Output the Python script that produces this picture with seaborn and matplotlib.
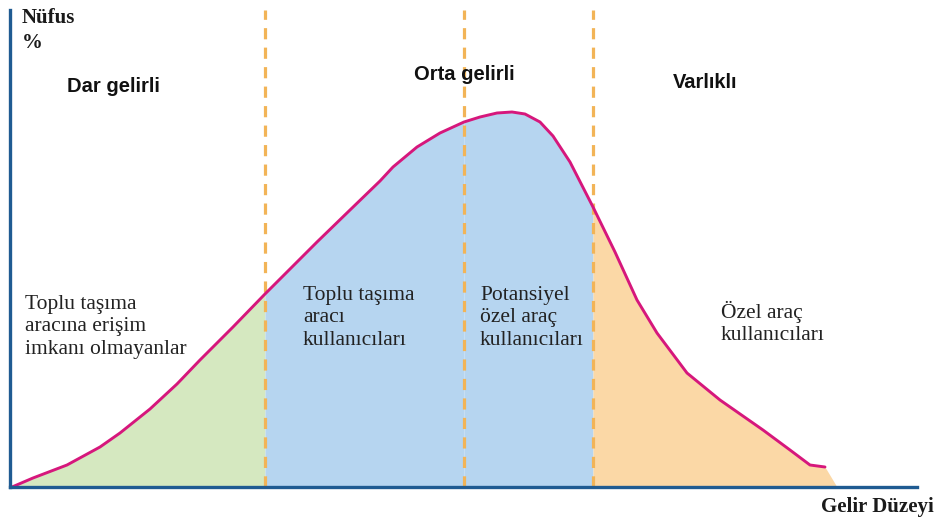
import numpy as np
import pandas as pd
import matplotlib
matplotlib.use("Agg")
import matplotlib.pyplot as plt
import seaborn as sns

# income level (x) vs population share (y)
income = [2, 23, 57, 90, 110, 140, 167, 190, 223, 255, 280, 307, 340, 370, 383, 407,
          430, 454, 470, 487, 502, 515, 530, 543, 560, 583, 605, 627, 647, 677,
          710, 753, 780, 800, 815]
population = [0, 9, 22, 40, 54, 78, 103, 127, 160, 193, 218, 245, 277, 306, 320, 340,
              354, 365, 370, 374, 375, 373, 365, 351, 325, 280, 235, 187, 154, 114,
              87, 57, 37, 22, 20]
tail_income, tail_population = 827, 0   # where the shaded area meets the axis

boundaries = [255, 454, 583]
group_labels = ["Dar gelirli", "Orta gelirli", "Varlıklı"]
group_pos = [(103, 400), (454, 412), (695, 405)]

segment_texts = [
    "Toplu taşıma\naracına erişim\nimkanı olmayanlar",
    "Toplu taşıma\naracı\nkullanıcıları",
    "Potansiyel\nözel araç\nkullanıcıları",
    "Özel araç\nkullanıcıları",
]
segment_pos = [(15, 192), (293, 201), (470, 201), (711, 186)]

fill_colors = ["#D5E8C0", "#B6D5F0", "#B6D5F0", "#FBD8A6"]
line_color = "#D6177C"
dash_color = "#F2B457"
axis_color = "#1F5B92"

df = pd.DataFrame({"income": income, "population": population})

sns.set_theme(style="white")
plt.rcParams["font.family"] = ["Liberation Serif", "DejaVu Serif"]

fig = plt.figure(figsize=(9.35, 5.17), dpi=100)
ax = fig.add_axes([0, 0, 1, 1])
ax.set_xlim(-10, 925)
ax.set_ylim(-30, 487)

# shaded areas between the income boundaries
x = np.array(income)
y = np.array(population)
edges = [x.min()] + boundaries + [x.max()]
for i in range(len(edges) - 1):
    m = (x >= edges[i]) & (x <= edges[i + 1])
    xs, ys = x[m], y[m]
    if i == len(edges) - 2:
        xs = np.append(xs, tail_income)
        ys = np.append(ys, tail_population)
    ax.fill_between(xs, 0, ys, color=fill_colors[i], lw=0, zorder=1)

ax.vlines(boundaries, 0, 477, colors=dash_color, lw=2.3,
          linestyles=(0, (3.5, 2.6)), zorder=2)

sns.lineplot(data=df, x="income", y="population", sort=False,
             color=line_color, lw=2.1, ax=ax, zorder=3)

# axes drawn as spines through the origin
for s in ["top", "right"]:
    ax.spines[s].set_visible(False)
ax.spines["left"].set_position(("data", 0))
ax.spines["bottom"].set_position(("data", 0))
ax.spines["left"].set_bounds(0, 477)
ax.spines["bottom"].set_bounds(0, 907)
for s in ["left", "bottom"]:
    ax.spines[s].set_color(axis_color)
    ax.spines[s].set_linewidth(2.4)
    ax.spines[s].set_zorder(4)
ax.set_xticks([])
ax.set_yticks([])
ax.set_xlabel("")
ax.set_ylabel("")

ax.text(12, 479, "Nüfus\n%", ha="left", va="top", fontsize=15,
        fontweight="bold", color="#1a1a1a", linespacing=1.35)
ax.text(924, -20, "Gelir Düzeyi", ha="right", va="center", fontsize=15,
        fontweight="bold", color="#1a1a1a")

for lab, (gx, gy) in zip(group_labels, group_pos):
    ax.text(gx, gy, lab, ha="center", va="center", fontsize=14.5,
            fontweight="bold", color="#111111", family=["Liberation Sans", "DejaVu Sans"])

for t, (tx, ty) in zip(segment_texts, segment_pos):
    ax.text(tx, ty, t, ha="left", va="top", fontsize=15.5, color="#222222",
            linespacing=1.24, zorder=5)

fig.savefig("out.png", dpi=100)
